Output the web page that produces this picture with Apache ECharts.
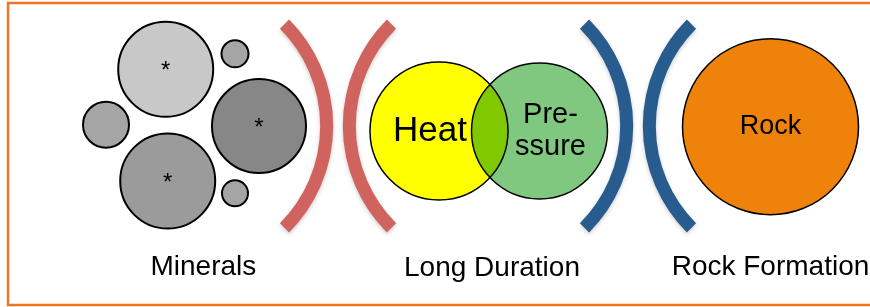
<!DOCTYPE html>
<html>
<head>
<meta charset="utf-8">
<script src="https://cdn.jsdelivr.net/npm/echarts@6/dist/echarts.min.js"></script>
<style>
	html, body { margin: 0; padding: 0; background: #fff; }
	#rock-chart { width: 870px; height: 307px; }
</style>
</head>
<body>
<div id="rock-chart"></div>
<script>
// 矿物颗粒 (x, y, 半径)
var mineralX = [165.7, 259, 167.7, 106, 235, 235];
var mineralY = [69.3, 126, 181, 124.8, 53.8, 193.3];
var mineralR = [47.5, 47, 47.5, 23, 13.5, 13];
var mineralMark = ['*', '*', '*', '', '', ''];

// 热 / 压力 / 岩石
var heatCircle = [439, 131, 69];
var pressureCircle = [539.5, 131, 68];
var rockCircle = [770.5, 126.7, 88];

// 括号弧线: 中点 x, 中点 y, 朝向 (1 = ")", -1 = "(")
var arcMidX = [326.7, 349.3, 626.7, 649.3];
var arcMidY = [126, 126, 126, 126];
var arcFacing = [1, -1, 1, -1];
var arcRadius = 144;

// 底部标题
var captionText = ['Minerals', 'Long Duration', 'Rock Formation'];
var captionX = [203.4, 492, 770.5];
var captionY = [267.5, 268, 267.5];

var FONT = '"Liberation Sans", Arial, sans-serif';
var mineralColors = ['#c8c8c8', '#878787', '#9b9b9b', '#a5a5a5', '#a5a5a5', '#a5a5a5'];
var arcColors = ['#d0635d', '#d0635d', '#285c8f', '#285c8f'];

function buildMinerals() {
	var list = [];
	for (var i = 0; i < mineralX.length; i++) {
		list.push({
			value: [mineralX[i], mineralY[i], mineralR[i]],
			itemStyle: { color: mineralColors[i] },
			label: {
				show: mineralMark[i] !== '',
				formatter: mineralMark[i]
			}
		});
	}
	return list;
}

function buildArcs() {
	var list = [];
	for (var i = 0; i < arcMidX.length; i++) {
		list.push([arcMidX[i], arcMidY[i], arcFacing[i], i]);
	}
	return list;
}

function buildCaptions() {
	var list = [];
	for (var i = 0; i < captionText.length; i++) {
		list.push({
			value: [captionX[i], captionY[i]],
			label: { formatter: captionText[i] }
		});
	}
	return list;
}

function circleSize(val) {
	return val[2] * 2;
}

var option = {
	animation: false,
	backgroundColor: '#fff',
	grid: { left: 0, right: 0, top: 0, bottom: 0 },
	xAxis: { type: 'value', min: 0, max: 870, show: false },
	yAxis: { type: 'value', min: 0, max: 307, inverse: true, show: false },
	graphic: [{
		type: 'rect',
		shape: { x: 8, y: 3, width: 900, height: 302 },
		style: { fill: 'none', stroke: '#ef7426', lineWidth: 2.5 },
		silent: true
	}],
	series: [
		{
			// 括号
			type: 'custom',
			data: buildArcs(),
			renderItem: function (params, api) {
				var mid = api.coord([api.value(0), api.value(1)]);
				var facing = api.value(2);
				var r = api.size([arcRadius, 0])[0];
				var half = Math.PI / 4;
				var cx = mid[0] - facing * r;
				var start = facing > 0 ? -half : Math.PI - half;
				var end = facing > 0 ? half : Math.PI + half;
				return {
					type: 'arc',
					shape: { cx: cx, cy: mid[1], r: r, startAngle: start, endAngle: end },
					style: {
						fill: 'none',
						stroke: arcColors[api.value(3)],
						lineWidth: 13,
						lineCap: 'butt',
						shadowBlur: 4,
						shadowOffsetY: 2,
						shadowColor: 'rgba(0,0,0,0.2)'
					}
				};
			}
		},
		{
			// 矿物
			type: 'scatter',
			symbol: 'circle',
			symbolSize: circleSize,
			itemStyle: { borderColor: '#000', borderWidth: 2, opacity: 1 },
			label: {
				position: 'inside',
				color: '#000',
				fontSize: 24,
				fontFamily: FONT,
				offset: [0, 2]
			},
			data: buildMinerals()
		},
		{
			type: 'scatter',
			symbol: 'circle',
			symbolSize: circleSize,
			itemStyle: { color: '#ffff00', borderColor: '#000', borderWidth: 1.5, opacity: 1 },
			label: {
				show: true,
				position: 'inside',
				formatter: 'Heat',
				color: '#000',
				fontSize: 35,
				fontFamily: FONT,
				offset: [-9, 0]
			},
			data: [heatCircle]
		},
		{
			type: 'scatter',
			symbol: 'circle',
			symbolSize: circleSize,
			blendMode: 'multiply',
			itemStyle: { color: '#80c880', borderColor: '#000', borderWidth: 1.5, opacity: 1 },
			label: {
				show: true,
				position: 'inside',
				formatter: 'Pre-\nssure',
				color: '#000',
				fontSize: 29,
				lineHeight: 32,
				fontFamily: FONT,
				offset: [11, 0]
			},
			data: [pressureCircle]
		},
		{
			type: 'scatter',
			symbol: 'circle',
			symbolSize: circleSize,
			itemStyle: { color: '#ee820a', borderColor: '#000', borderWidth: 1.5, opacity: 1 },
			label: {
				show: true,
				position: 'inside',
				formatter: 'Rock',
				color: '#000',
				fontSize: 27,
				fontFamily: FONT
			},
			data: [rockCircle]
		},
		{
			// 底部标题
			type: 'scatter',
			symbolSize: 0,
			itemStyle: { opacity: 1 },
			label: {
				show: true,
				position: 'inside',
				color: '#000',
				fontSize: 28,
				fontFamily: FONT
			},
			data: buildCaptions()
		}
	]
};

var rockChart = echarts.init(document.getElementById('rock-chart'), null, { renderer: 'canvas' });
rockChart.setOption(option);
</script>
</body>
</html>
